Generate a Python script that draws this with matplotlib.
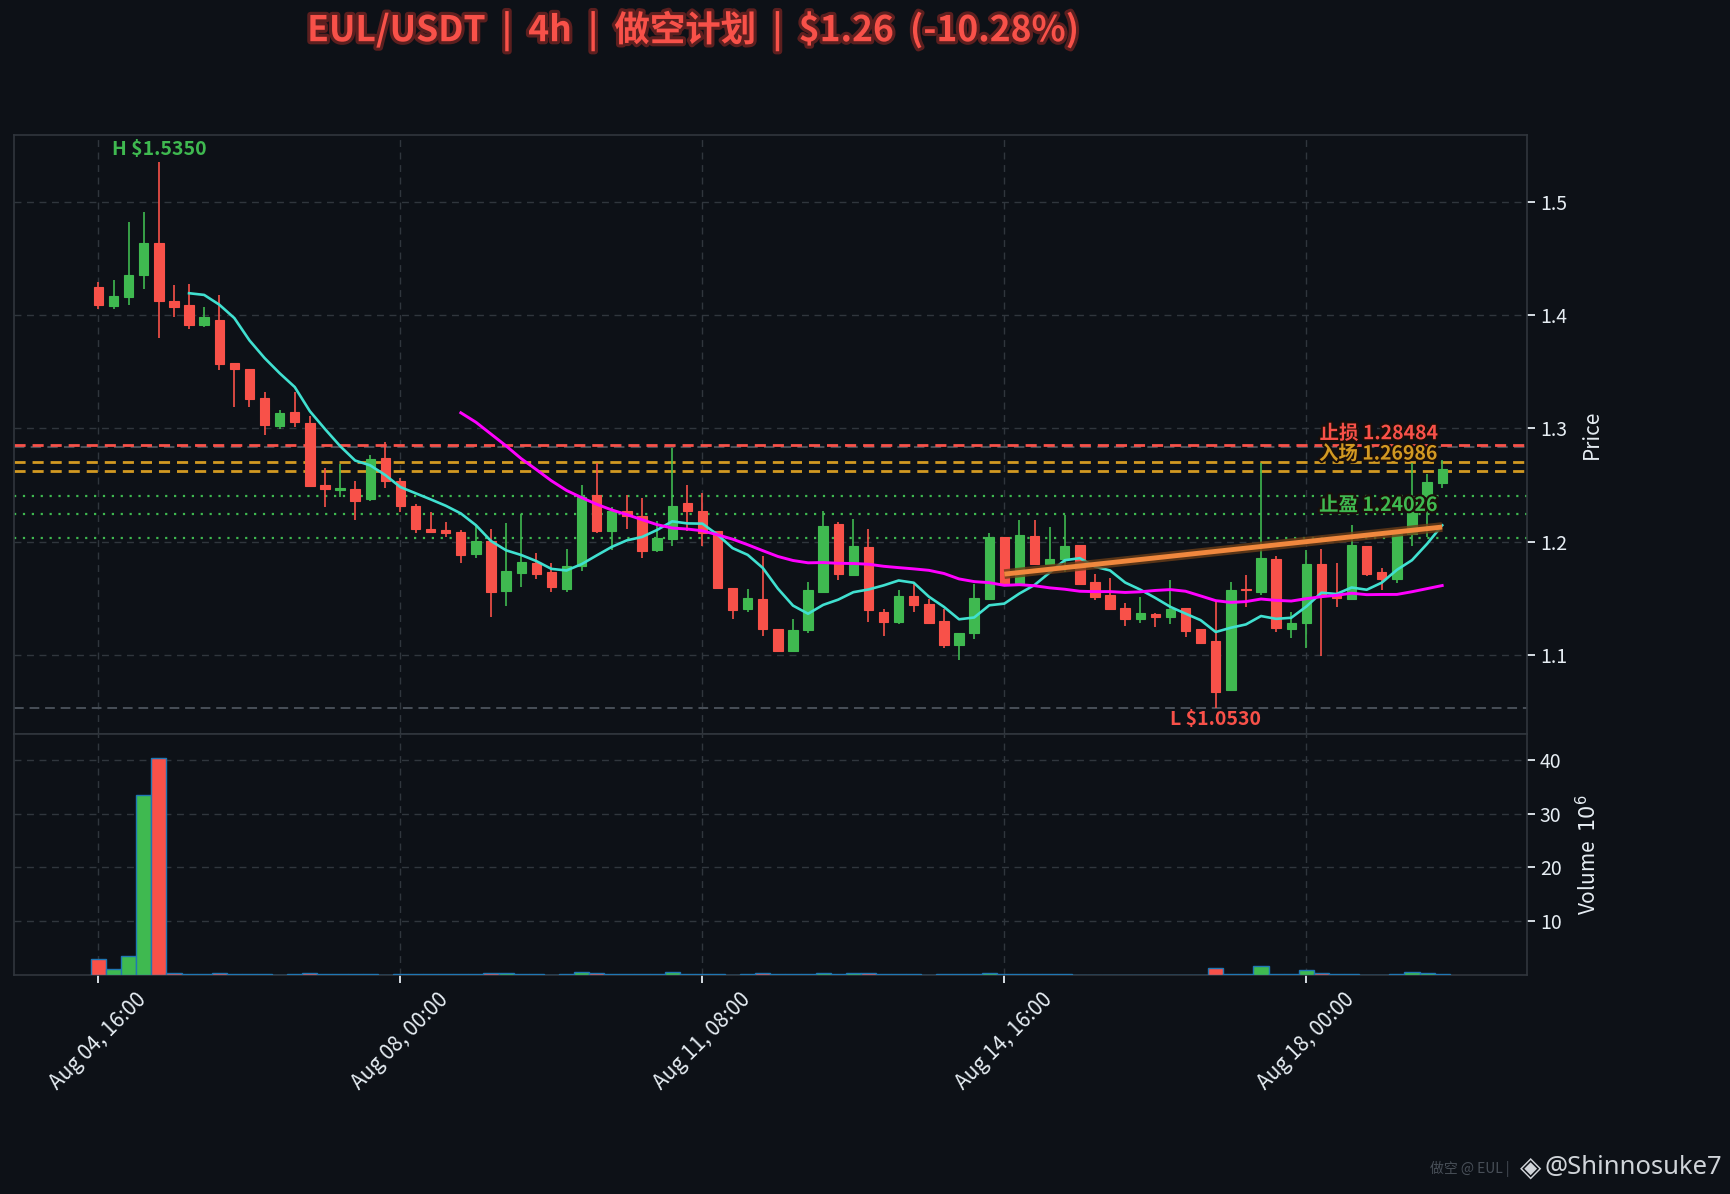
import numpy as np
import pandas as pd
import matplotlib
matplotlib.use("Agg")
import matplotlib.pyplot as plt
import matplotlib.patheffects as pe

# 4h candles, Aug 04 16:00 -> Aug 19 12:00
start_time = "2025-08-04 16:00"
opens = [1.4247, 1.4081, 1.4162, 1.4355, 1.4635, 1.4125, 1.4088, 1.3912, 1.3956, 1.3578,
         1.3524, 1.3267, 1.3024, 1.3145, 1.3047, 1.2500, 1.2456, 1.2466, 1.2375, 1.2740,
         1.2534, 1.2314, 1.2111, 1.2101, 1.2088, 1.1892, 1.2003, 1.1564, 1.1723, 1.1807,
         1.1731, 1.1584, 1.1783, 1.2407, 1.2094, 1.2269, 1.2223, 1.1924, 1.2018, 1.2340,
         1.2269, 1.2094, 1.1590, 1.1400, 1.1496, 1.1224, 1.1034, 1.1215, 1.1558, 1.2152,
         1.1707, 1.1953, 1.1379, 1.1286, 1.1523, 1.1452, 1.1300, 1.1083, 1.1189, 1.1496,
         1.2041, 1.1628, 1.2047, 1.1804, 1.1845, 1.1971, 1.1643, 1.1526, 1.1417, 1.1312,
         1.1359, 1.1335, 1.1417, 1.1227, 1.1122, 1.0691, 1.1584, 1.1555, 1.1848, 1.1227,
         1.1277, 1.1800, 1.1533, 1.1496, 1.1959, 1.1731, 1.1672, 1.2067, 1.2404, 1.2521]
highs = [1.4297, 1.4314, 1.4824, 1.4912, 1.5350, 1.4270, 1.4277, 1.4074, 1.4182, 1.3578,
         1.3524, 1.3324, 1.3166, 1.3318, 1.3108, 1.2652, 1.2686, 1.2537, 1.2760, 1.2875,
         1.2561, 1.2331, 1.2257, 1.2176, 1.2101, 1.2145, 1.2111, 1.2162, 1.2240, 1.1895,
         1.1807, 1.1936, 1.2501, 1.2691, 1.2307, 1.2413, 1.2384, 1.2184, 1.2823, 1.2501,
         1.2430, 1.2094, 1.1590, 1.1584, 1.1868, 1.1224, 1.1315, 1.1640, 1.2272, 1.2170,
         1.2202, 1.2114, 1.1403, 1.1570, 1.1628, 1.1496, 1.1408, 1.1195, 1.1628, 1.2076,
         1.2041, 1.2193, 1.2187, 1.2132, 1.2237, 1.1971, 1.1713, 1.1675, 1.1461, 1.1508,
         1.1370, 1.1663, 1.1417, 1.1227, 1.1467, 1.1643, 1.1707, 1.2691, 1.1868, 1.1373,
         1.1927, 1.1932, 1.1813, 1.2146, 1.1959, 1.1769, 1.2070, 1.2691, 1.2594, 1.2717]
lows = [1.4051, 1.4051, 1.4088, 1.4230, 1.3794, 1.3980, 1.3875, 1.3892, 1.3514, 1.3186,
        1.3186, 1.2939, 1.2993, 1.3010, 1.2483, 1.2304, 1.2392, 1.2186, 1.2358, 1.2473,
        1.2260, 1.2071, 1.2071, 1.2044, 1.1811, 1.1851, 1.1331, 1.1429, 1.1598, 1.1666,
        1.1554, 1.1555, 1.1739, 1.2073, 1.1927, 1.2108, 1.1857, 1.1906, 1.1959, 1.2091,
        1.1959, 1.1580, 1.1318, 1.1379, 1.1168, 1.1034, 1.1034, 1.1189, 1.1558, 1.1657,
        1.1707, 1.1291, 1.1168, 1.1268, 1.1379, 1.1277, 1.1063, 1.0949, 1.1136, 1.1496,
        1.1628, 1.1628, 1.1804, 1.1789, 1.1731, 1.1628, 1.1482, 1.1400, 1.1256, 1.1277,
        1.1247, 1.1268, 1.1154, 1.1092, 1.0530, 1.0691, 1.1423, 1.1526, 1.1204, 1.1145,
        1.1063, 1.0988, 1.1423, 1.1496, 1.1695, 1.1570, 1.1634, 1.1959, 1.2038, 1.2477]
closes = [1.4088, 1.4169, 1.4355, 1.4635, 1.4122, 1.4074, 1.3912, 1.3983, 1.3568, 1.3524,
          1.3257, 1.3030, 1.3135, 1.3057, 1.2490, 1.2466, 1.2473, 1.2358, 1.2730, 1.2534,
          1.2314, 1.2111, 1.2088, 1.2078, 1.1882, 1.2003, 1.1554, 1.1740, 1.1821, 1.1713,
          1.1595, 1.1783, 1.2395, 1.2094, 1.2269, 1.2225, 1.1918, 1.2032, 1.2313, 1.2269,
          1.2079, 1.1590, 1.1391, 1.1502, 1.1224, 1.1034, 1.1218, 1.1575, 1.2138, 1.1716,
          1.1962, 1.1391, 1.1286, 1.1523, 1.1435, 1.1277, 1.1083, 1.1195, 1.1502, 1.2041,
          1.1628, 1.2059, 1.1804, 1.1848, 1.1962, 1.1628, 1.1511, 1.1400, 1.1312, 1.1365,
          1.1335, 1.1406, 1.1212, 1.1107, 1.0668, 1.1575, 1.1570, 1.1854, 1.1233, 1.1277,
          1.1804, 1.1520, 1.1497, 1.1971, 1.1716, 1.1672, 1.2067, 1.2404, 1.2530, 1.2644]
# volume in millions
volumes = [2.9, 1.2, 3.5, 33.5, 40.4, 0.4, 0.15, 0.15, 0.35, 0.15,
           0.12, 0.1, 0.02, 0.1, 0.35, 0.1, 0.1, 0.12, 0.1, 0.02,
           0.1, 0.1, 0.1, 0.1, 0.1, 0.1, 0.3, 0.3, 0.1, 0.1,
           0.02, 0.1, 0.5, 0.3, 0.1, 0.1, 0.1, 0.1, 0.5, 0.1,
           0.1, 0.1, 0.02, 0.1, 0.3, 0.1, 0.1, 0.1, 0.3, 0.1,
           0.3, 0.3, 0.1, 0.1, 0.1, 0.02, 0.1, 0.1, 0.1, 0.3,
           0.1, 0.1, 0.1, 0.1, 0.1, 0.0, 0.0, 0.0, 0.0, 0.0,
           0.0, 0.0, 0.0, 0.0, 1.3, 0.1, 0.1, 1.6, 0.1, 0.1,
           1.0, 0.3, 0.1, 0.1, 0.02, 0.02, 0.1, 0.5, 0.3, 0.1]

stop_loss = 1.28484
entry_levels = [1.26986, 1.2621]
take_profits = [1.24026, 1.2246, 1.2029]
resist_level = 1.2835
low_level = 1.0530
high_level = 1.5350
trend_x = [60, 89]
trend_y = [1.1712, 1.2128]

title = "EUL/USDT  |  4h  |  做空计划  |  $1.26  (-10.28%)"

BG = "#0d1117"
GREEN = "#3fb950"
RED = "#f85149"
ORANGE = "#d29922"
GRID = "#30363d"
TXT = "#e6edf3"

plt.rcParams['font.family'] = ['Noto Sans CJK SC', 'DejaVu Sans']

df = pd.DataFrame({'open': opens, 'high': highs, 'low': lows, 'close': closes, 'volume': volumes})
df.index = pd.date_range(start_time, periods=len(df), freq='4h')
x = np.arange(len(df))
up = df['close'] >= df['open']
colors = np.where(up, GREEN, RED)
ma7 = df['close'].rolling(7).mean()
ma25 = df['close'].rolling(25).mean()

fig = plt.figure(figsize=(17.31, 11.94), dpi=100, facecolor=BG)
ax = fig.add_axes([0.0083, 0.3853, 0.8737, 0.5017])
axv = fig.add_axes([0.0083, 0.1834, 0.8737, 0.2019], sharex=ax)

for a in (ax, axv):
    a.set_facecolor(BG)
    for s in a.spines.values():
        s.set_color(GRID)
        s.set_linewidth(1.2)
    a.yaxis.tick_right()
    a.yaxis.set_label_position("right")
    a.grid(True, color=GRID, linestyle=(0, (5, 4)), linewidth=1.0)
    a.tick_params(colors=TXT, labelsize=14, length=6, width=1.3)
    a.set_axisbelow(True)

# candles
ax.vlines(x, df['low'], df['high'], colors=colors, linewidth=1.2, zorder=3)
body_h = np.maximum((df['close'] - df['open']).abs(), 0.0012)
ax.bar(x, body_h, bottom=np.minimum(df['open'], df['close']), width=0.62,
       color=colors, edgecolor=colors, linewidth=0.8, zorder=4)

ax.plot(x, ma7, color="#40e0d0", linewidth=1.9, zorder=5)
ax.plot(x, ma25, color="#ff00ff", linewidth=2.1, zorder=5)

# levels
ax.axhline(resist_level, color="#484f58", linestyle=(0, (5, 3)), linewidth=1.5, zorder=2)
ax.axhline(stop_loss, color=RED, linestyle=(0, (4, 2.5)), linewidth=2, zorder=2)
for lv in entry_levels:
    ax.axhline(lv, color=ORANGE, linestyle=(0, (4, 2.5)), linewidth=2, zorder=2)
for lv in take_profits:
    ax.axhline(lv, color=GREEN, linestyle=(0, (1, 3)), linewidth=1.6, zorder=2)
ax.axhline(low_level, color="#484f58", linestyle=(0, (5, 3)), linewidth=1.4, zorder=2)

ax.plot(trend_x, trend_y, color="#f0883e", linewidth=3.5, solid_capstyle='butt', zorder=6,
        path_effects=[pe.Stroke(linewidth=7, foreground="#6b3d17", alpha=0.8), pe.Normal()])

stroke = [pe.withStroke(linewidth=3, foreground="#1a0f0a")]
lab_x = 88.7
ax.text(lab_x, stop_loss + 0.002, f"止损 {stop_loss:.5f}", color=RED, fontsize=14,
        fontweight='bold', ha='right', va='bottom', zorder=8, path_effects=stroke)
ax.text(lab_x, entry_levels[0] - 0.001, f"入场 {entry_levels[0]:.5f}", color=ORANGE, fontsize=14,
        fontweight='bold', ha='right', va='bottom', zorder=8, path_effects=stroke)
ax.text(lab_x, take_profits[0], f"止盈 {take_profits[0]:.5f}", color=GREEN, fontsize=14,
        fontweight='bold', ha='right', va='top', zorder=8, path_effects=stroke)

hi_i = int(np.argmax(df['high'].values))
lo_i = int(np.argmin(df['low'].values))
ax.text(hi_i, high_level + 0.003, f"H ${high_level:.4f}", color=GREEN, fontsize=14,
        fontweight='bold', ha='center', va='bottom', zorder=8)
ax.text(lo_i, low_level - 0.002, f"L ${low_level:.4f}", color=RED, fontsize=14,
        fontweight='bold', ha='center', va='top', zorder=8)

ax.set_xlim(-5.57, 94.6)
ax.set_ylim(1.030, 1.5592)
ax.set_yticks([1.1, 1.2, 1.3, 1.4, 1.5])
ax.set_ylabel("Price", color=TXT, fontsize=15, labelpad=10)
plt.setp(ax.get_xticklabels(), visible=False)
ax.tick_params(axis='x', length=0)

# volume
axv.bar(x, df['volume'], width=1.0, color=colors, edgecolor="#1f77b4", linewidth=1.0, zorder=3)
axv.set_ylim(0, 44.8)
axv.set_yticks([10, 20, 30, 40])
axv.set_ylabel("Volume  $10^6$", color=TXT, fontsize=15, labelpad=10)
tick_idx = [0, 20, 40, 60, 80]
axv.set_xticks(tick_idx)
axv.set_xticklabels([df.index[i].strftime("%b %d, %H:%M") for i in tick_idx],
                    rotation=45, ha='center', fontsize=15, color=TXT)

fig.text(0.4, 0.974, title, color=RED, fontsize=25.5, fontweight='bold', ha='center', va='center',
         path_effects=[pe.withStroke(linewidth=4.5, foreground="#5c1f1f")])

fig.text(0.826, 0.021, "做空 @ EUL |", color="#484f58", fontsize=10, ha='left', va='center')
fig.text(0.878, 0.022, "◈", color="#d0d4d9", fontsize=20, ha='left', va='center',
         family=['DejaVu Sans'])
fig.text(0.995, 0.022, "@Shinnosuke7", color="#d0d4d9", fontsize=18.5, ha='right', va='center',
         family=['Noto Sans', 'DejaVu Sans'])

fig.savefig("out.png", dpi=100, facecolor=BG)
